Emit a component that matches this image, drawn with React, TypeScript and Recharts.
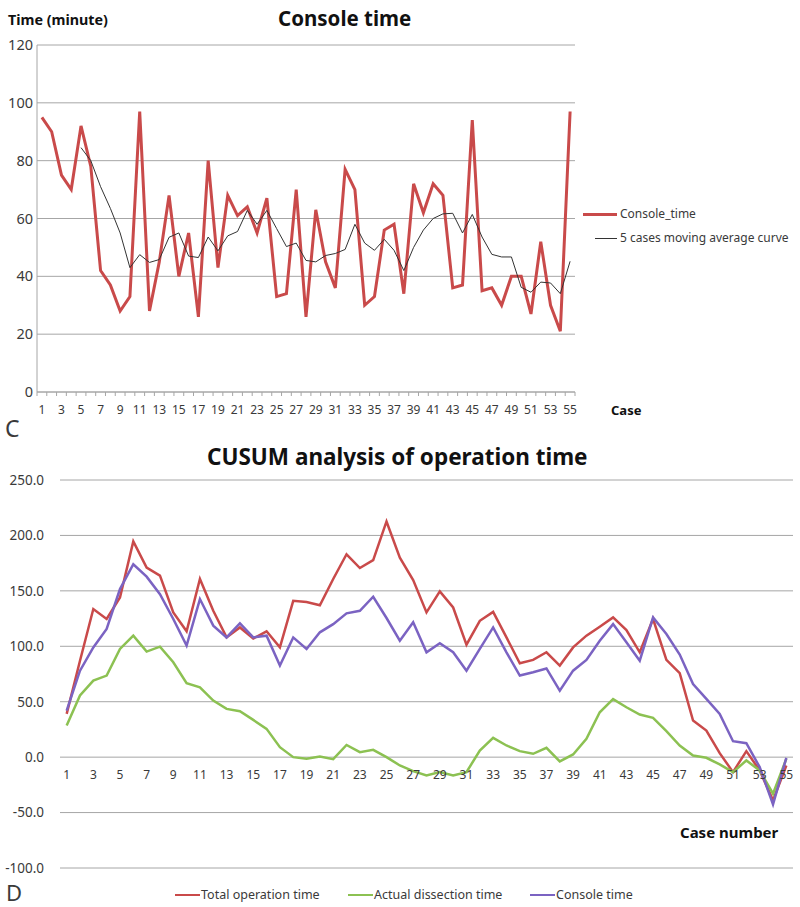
import { LineChart, Line, XAxis, YAxis, CartesianGrid } from 'recharts';

// case numbers, shared by both panels
const cases = [
  1, 2, 3, 4, 5, 6, 7, 8, 9, 10, 11, 12, 13, 14, 15, 16, 17, 18, 19, 20,
  21, 22, 23, 24, 25, 26, 27, 28, 29, 30, 31, 32, 33, 34, 35, 36, 37, 38, 39, 40,
  41, 42, 43, 44, 45, 46, 47, 48, 49, 50, 51, 52, 53, 54, 55,
];

// panel C: console time (minute)
const consoleTime = [
  95, 90, 75, 70, 92, 78, 42, 37, 28, 33, 97, 28, 45, 68, 40, 55, 26, 80, 43, 68,
  61, 64, 55, 67, 33, 34, 70, 26, 63, 45, 36, 77, 70, 30, 33, 56, 58, 34, 72, 62,
  72, 68, 36, 37, 94, 35, 36, 30, 40, 40, 27, 52, 30, 21, 97,
];

const movingAverage = [
  null, null, null, null, 84.5, 80, 71, 63.5, 55, 43, 47.5, 44.8, 45.8, 53.5, 55, 47, 46.5, 53.6, 48.8, 54,
  55.5, 62.8, 58, 62.8, 56.5, 50.3, 51.5, 45.5, 45, 47.2, 47.9, 49.3, 58, 51.5, 49, 52.8, 49, 42, 50, 56,
  60, 61.6, 61.8, 55, 61.4, 53.6, 47.6, 46.7, 46.7, 36.2, 34.5, 38, 37.7, 34, 45.2,
];

const consoleTicks = [0, 20, 40, 60, 80, 100, 120];

// panel D: CUSUM
const totalCusum = [
  39, 87, 133.6, 124.6, 144, 194.6, 171, 163.7, 130.6, 113.5, 160.7, 132, 108, 117, 107, 113.5, 99, 141, 140, 137,
  160.7, 183, 170.6, 177.8, 212.6, 180, 159.8, 130.6, 149.5, 135, 101.5, 123, 131, 108, 84.7, 87.7, 94.6, 82.6, 99, 109.6,
  117.7, 126, 114.7, 94.6, 124.6, 87.7, 75.7, 33, 24, 3.6, -13.5, 5.4, -12, -39, -7.5,
];

const dissectionCusum = [
  28.5, 55.6, 69, 73.6, 97.6, 109.6, 95.2, 99.7, 85.6, 66.7, 63, 51, 43.5, 41.4, 33.6, 25.5, 9, 0, -1.5, 0.6,
  -1.8, 11, 4.5, 6.6, 0, -7.5, -12.6, -16.5, -13.5, -16.5, -13.5, 6, 17.4, 10.5, 5.4, 3, 8.4, -3.9, 2.4, 16.5,
  40.5, 52.3, 45, 38.4, 35.4, 23.4, 10.5, 1.5, -0.6, -6.6, -13.5, -3, -12, -33, -1.5,
];

const consoleCusum = [
  42, 78, 99, 115.6, 151.6, 174, 162.8, 147, 124.6, 100.6, 142.6, 118.6, 108, 120.7, 108, 109.6, 82.6, 108, 97.6, 112.6,
  120, 129.7, 132, 144.7, 125.5, 105, 121.6, 94.6, 102.7, 94.6, 78, 97.6, 117, 94.6, 73.6, 76.6, 80, 60, 78, 87.7,
  105, 120, 103.6, 87, 126, 111, 92.5, 66, 52.5, 39, 14.4, 12.6, -9, -42.6, -0.6,
];

const cusumTicks = [-100, -50, 0, 50, 100, 150, 200, 250];

const FONT = '"Noto Sans", "Open Sans", sans-serif';
const GRID = '#a6a6a6';
const TEXT = '#3a3a3a';

const RED = '#c94a4a';
const GREEN = '#8cc152';
const PURPLE = '#7b63c2';

// top panel geometry
const TOP_MARGIN = { top: 45, right: 225, bottom: 18, left: 7 };
const TOP_PLOT_W = 800 - TOP_MARGIN.left - TOP_MARGIN.right - 30;
const TOP_BAND = TOP_PLOT_W / cases.length;

// bottom panel geometry
const BOT_MARGIN = { top: 40, right: 7, bottom: 0, left: 0 };
const BOT_H = 458;
const BOT_PLOT_H = BOT_H - BOT_MARGIN.top - BOT_MARGIN.bottom - 30;

const topData = cases.map((c, i) => ({
  case: c,
  console: consoleTime[i],
  avg: movingAverage[i],
}));

const bottomData = cases.map((c, i) => ({
  case: c,
  total: totalCusum[i],
  dissection: dissectionCusum[i],
  console: consoleCusum[i],
}));

// tick marks sit between categories, labels on odd cases only
const TopCaseTick = ({ x, y, payload, index }: any) => {
  const axisY = y - 13;
  const half = TOP_BAND / 2;
  return (
    <g>
      <line x1={x - half} x2={x - half} y1={axisY} y2={axisY + 4} stroke={GRID} />
      {index === cases.length - 1 && (
        <line x1={x + half} x2={x + half} y1={axisY} y2={axisY + 4} stroke={GRID} />
      )}
      {payload.value % 2 === 1 && (
        <text x={x} y={y} dy="0.71em" textAnchor="middle" fontSize={12} fill={TEXT} fontFamily={FONT}>
          {payload.value}
        </text>
      )}
    </g>
  );
};

// labels drawn along the zero line instead of the plot bottom
const BottomCaseTick = ({ x, y, payload }: any) => {
  const axisY = y - 8;
  const min = cusumTicks[0];
  const max = cusumTicks[cusumTicks.length - 1];
  const zeroY = axisY - (BOT_PLOT_H * (0 - min)) / (max - min);
  if (payload.value % 2 === 0) return null;
  return (
    <text x={x} y={zeroY + 13} dy="0.71em" textAnchor="middle" fontSize={12} fill={TEXT} fontFamily={FONT}>
      {payload.value}
    </text>
  );
};

const Label = ({ left, top, size, bold, children }: any) => (
  <div
    style={{
      position: 'absolute',
      left,
      top,
      transform: 'translateY(-50%)',
      fontSize: size,
      fontWeight: bold ? 700 : 400,
      lineHeight: 1,
      whiteSpace: 'nowrap',
      color: bold ? '#111' : TEXT,
    }}
  >
    {children}
  </div>
);

const LegendLine = ({ left, top, width, color, thick }: any) => (
  <div
    style={{
      position: 'absolute',
      left,
      top: top - thick / 2,
      width,
      height: thick,
      background: color,
    }}
  />
);

export default function App() {
  return (
    <div
      style={{
        position: 'absolute',
        left: 0,
        top: 0,
        width: 800,
        height: 907,
        background: '#fff',
        fontFamily: FONT,
        overflow: 'hidden',
      }}
    >
      {/* C: console time */}
      <div style={{ position: 'absolute', left: 0, top: 0 }}>
        <LineChart width={800} height={440} data={topData} margin={TOP_MARGIN}>
          <CartesianGrid vertical={false} stroke={GRID} />
          <XAxis
            dataKey="case"
            scale="band"
            interval={0}
            height={30}
            tickSize={4}
            tickMargin={9}
            tickLine={false}
            axisLine={{ stroke: GRID }}
            tick={<TopCaseTick />}
          />
          <YAxis
            domain={[0, 120]}
            ticks={consoleTicks}
            width={30}
            tickSize={2}
            tickMargin={2}
            tickLine={false}
            axisLine={{ stroke: GRID }}
            tick={{ fontSize: 14.5, fill: TEXT, fontFamily: FONT }}
          />
          <Line dataKey="console" stroke={RED} strokeWidth={3} dot={false} isAnimationActive={false} />
          <Line dataKey="avg" stroke="#333" strokeWidth={1} dot={false} isAnimationActive={false} />
        </LineChart>
      </div>

      <Label left={8} top={20} size={14.3} bold>Time (minute)</Label>
      <Label left={278} top={18} size={20.5} bold>Console time</Label>
      <Label left={611} top={410} size={13} bold>Case</Label>
      <Label left={5} top={428} size={23}>C</Label>

      <LegendLine left={583} top={214} width={34} color={RED} thick={3} />
      <Label left={620} top={214} size={12}>Console_time</Label>
      <LegendLine left={595} top={238} width={22} color="#333" thick={1} />
      <Label left={620} top={238} size={12}>5 cases moving average curve</Label>

      {/* D: CUSUM */}
      <div style={{ position: 'absolute', left: 0, top: 440 }}>
        <LineChart width={800} height={BOT_H} data={bottomData} margin={BOT_MARGIN}>
          <CartesianGrid vertical={false} stroke={GRID} />
          <XAxis
            dataKey="case"
            scale="band"
            interval={0}
            height={30}
            tickLine={false}
            axisLine={false}
            tick={<BottomCaseTick />}
          />
          <YAxis
            domain={[-100, 250]}
            ticks={cusumTicks}
            width={60}
            tickSize={8}
            tickMargin={8}
            tickLine={false}
            axisLine={false}
            tickFormatter={(v: number) => v.toFixed(1)}
            tick={{ fontSize: 13.5, fill: TEXT, fontFamily: FONT }}
          />
          <Line dataKey="total" stroke={RED} strokeWidth={2.5} dot={false} isAnimationActive={false} />
          <Line dataKey="dissection" stroke={GREEN} strokeWidth={2.5} dot={false} isAnimationActive={false} />
          <Line dataKey="console" stroke={PURPLE} strokeWidth={2.5} dot={false} isAnimationActive={false} />
        </LineChart>
      </div>

      <Label left={207} top={457} size={22.5} bold>CUSUM analysis of operation time</Label>
      <Label left={680} top={832} size={15} bold>Case number</Label>
      <Label left={6} top={892} size={22}>D</Label>

      <LegendLine left={175} top={895} width={25} color={RED} thick={2.5} />
      <Label left={201} top={895} size={12.5}>Total operation time</Label>
      <LegendLine left={348} top={895} width={25} color={GREEN} thick={2.5} />
      <Label left={374} top={895} size={12.5}>Actual dissection time</Label>
      <LegendLine left={530} top={895} width={25} color={PURPLE} thick={2.5} />
      <Label left={556} top={895} size={12.5}>Console time</Label>
    </div>
  );
}
